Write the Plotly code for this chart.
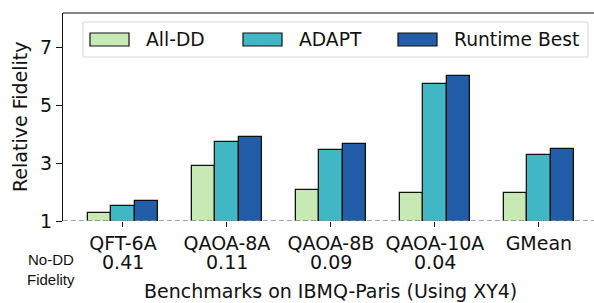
import plotly.graph_objects as go

categories = ["QFT-6A", "QAOA-8A", "QAOA-8B", "QAOA-10A", "GMean"]
no_dd_fidelity = ["0.41", "0.11", "0.09", "0.04", ""]
series_names = ["All-DD", "ADAPT", "Runtime Best"]
all_dd = [1.26, 2.90, 2.08, 1.98, 1.97]
adapt = [1.53, 3.72, 3.45, 5.71, 3.26]
runtime_best = [1.70, 3.90, 3.66, 5.99, 3.47]
y_ticks = [1, 3, 5, 7]

colors = ["#c7e9b4", "#41b6c4", "#225ea8"]
FONT = "DejaVu Sans"
FS = 19
W, H = 594, 303
L, R, T, B = 63, 0, 13, 82

fig = go.Figure()
bar_w = 0.225
xs = list(range(len(categories)))
for i, (name, vals) in enumerate(zip(series_names, [all_dd, adapt, runtime_best])):
    fig.add_trace(go.Bar(
        x=[x + (i - 1) * bar_w for x in xs], y=vals, width=bar_w, name=name,
        marker=dict(color=colors[i], line=dict(color="#111111", width=1.3)),
        showlegend=False, hoverinfo="skip",
    ))

fig.update_layout(
    width=W, height=H,
    margin=dict(l=L, r=R, t=T, b=B, autoexpand=False),
    paper_bgcolor="white", plot_bgcolor="white",
    font=dict(family=FONT, size=FS, color="#111111"),
    bargap=0,
    xaxis=dict(
        range=[-0.577, 4.53], tickmode="array", tickvals=xs, ticktext=categories,
        showline=False, showgrid=False, zeroline=False, automargin=False,
        ticks="outside", ticklen=5, tickcolor="#111111", tickwidth=1,
        tickfont=dict(family=FONT, size=FS),
    ),
    yaxis=dict(
        range=[1, 1 + 208 / 29], tickvals=y_ticks, showgrid=False, zeroline=False,
        showline=True, linecolor="#111111", linewidth=1.2, automargin=False,
        ticks="outside", ticklen=6, tickcolor="#111111", tickwidth=1,
        tickfont=dict(family=FONT, size=FS),
    ),
    showlegend=False,
)

pw = W - L - R
ph = H - T - B
def px_x(p):
    return (p - L) / pw
def px_y(p):
    return 1 - (p - T) / ph

# top spine and dashed baseline
fig.add_shape(type="line", xref="paper", yref="paper", x0=0, x1=1, y0=1, y1=1,
              line=dict(color="#111111", width=1.2))
fig.add_shape(type="line", xref="paper", yref="y", x0=0, x1=1, y0=1, y1=1,
              line=dict(color="#888888", width=1.3, dash="5px,3px"), layer="above")

# No-DD fidelity values under the category labels
for x, f in zip(xs, no_dd_fidelity):
    if f:
        fig.add_annotation(text=f, xref="x", yref="paper", x=x, y=px_y(261.5),
                           showarrow=False, xanchor="center", yanchor="middle",
                           font=dict(family=FONT, size=FS))

# axis titles
fig.add_annotation(text="Relative Fidelity", xref="paper", yref="paper",
                   x=px_x(20), y=0.5, textangle=-90, showarrow=False,
                   font=dict(family=FONT, size=FS), xanchor="center", yanchor="middle")
fig.add_annotation(text="Benchmarks on IBMQ-Paris (Using XY4)", xref="paper", yref="paper",
                   x=px_x(330), y=px_y(291), showarrow=False,
                   font=dict(family=FONT, size=FS), xanchor="center", yanchor="middle")
fig.add_annotation(text="No-DD", xref="paper", yref="paper",
                   x=px_x(51), y=px_y(259.5), showarrow=False,
                   font=dict(family="Liberation Sans", size=15), xanchor="center", yanchor="middle")
fig.add_annotation(text="Fidelity", xref="paper", yref="paper",
                   x=px_x(51), y=px_y(279), showarrow=False,
                   font=dict(family="Liberation Sans", size=15), xanchor="center", yanchor="middle")

# custom legend (matplotlib-style)
fig.add_shape(type="rect", xref="paper", yref="paper",
              x0=px_x(83), x1=px_x(588), y0=px_y(22), y1=px_y(57),
              line=dict(color="#d6d6d6", width=1), fillcolor="rgba(255,255,255,0.85)", layer="above")
patch_x = [90, 243, 398]
for i, name in enumerate(series_names):
    fig.add_shape(type="rect", xref="paper", yref="paper",
                  x0=px_x(patch_x[i]), x1=px_x(patch_x[i] + 39), y0=px_y(33), y1=px_y(46),
                  line=dict(color="#111111", width=1.2), fillcolor=colors[i], layer="above")
    fig.add_annotation(text=name, xref="paper", yref="paper",
                       x=px_x(patch_x[i] + 54), y=px_y(39.5), showarrow=False,
                       xanchor="left", yanchor="middle", font=dict(family=FONT, size=18.7))

fig.write_html("out.html", config={"displayModeBar": False},
               post_script="document.body.style.margin='0';document.body.style.overflow='hidden';")
